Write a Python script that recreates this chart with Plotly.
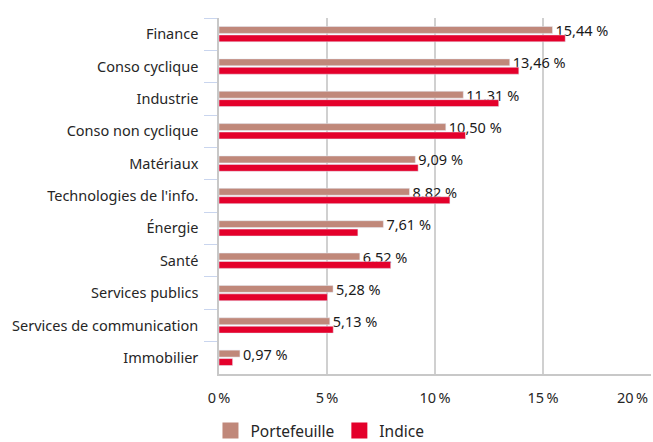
import plotly.graph_objects as go

categories = ["Finance", "Conso cyclique", "Industrie", "Conso non cyclique", "Matériaux",
              "Technologies de l'info.", "Énergie", "Santé", "Services publics",
              "Services de communication", "Immobilier"]
portefeuille = [15.44, 13.46, 11.31, 10.50, 9.09, 8.82, 7.61, 6.52, 5.28, 5.13, 0.97]
indice = [16.03, 13.88, 12.95, 11.41, 9.22, 10.69, 6.43, 7.95, 5.02, 5.29, 0.63]
tick_vals = [0, 5, 10, 15, 20]
tick_text = ["0\u2009%", "5\u2009%", "10\u2009%", "15\u2009%", "20\u2009%"]

C_PF = "#C0887A"
C_IX = "#E4002B"
FONT = "Noto Sans"

labels = [f"{v:.2f}".replace(".", ",") + " %" for v in portefeuille]

fig = go.Figure()
fig.add_trace(go.Bar(
    y=categories, x=portefeuille, orientation="h", name="Portefeuille",
    marker=dict(color=C_PF), text=labels, textposition="outside",
    textfont=dict(family=FONT, size=14.5, color="#1a1a1a"),
    constraintext="none", cliponaxis=False, showlegend=False, hoverinfo="x+y"))
fig.add_trace(go.Bar(
    y=categories, x=indice, orientation="h", name="Indice",
    marker=dict(color=C_IX), showlegend=False, hoverinfo="x+y"))

# legend entries with larger swatches
for nm, col in [("Portefeuille", C_PF), ("Indice", C_IX)]:
    fig.add_trace(go.Scatter(x=[None], y=[None], mode="markers", name=nm,
                             marker=dict(symbol="square", size=20, color=col)))

fig.update_layout(
    width=653, height=442,
    margin=dict(l=219, r=2, t=18, b=68),
    paper_bgcolor="white", plot_bgcolor="white",
    barmode="group", bargap=0.48, bargroupgap=0.18,
    font=dict(family=FONT, size=14, color="#262626"),
    legend=dict(orientation="h", xref="container", yref="container",
                x=0.49, xanchor="center", y=0.025, yanchor="middle",
                font=dict(family=FONT, size=15.5, color="#262626"),
                itemwidth=30, tracegroupgap=0),
    xaxis=dict(range=[0, 20], tickvals=tick_vals[:-1], ticktext=tick_text[:-1],
               automargin=False,
               showgrid=True, gridcolor="#d0d0d0", gridwidth=1.5,
               showline=True, linecolor="#c8c8c8", linewidth=1.5,
               zeroline=False, ticks="", ticklabelstandoff=10,
               tickfont=dict(family=FONT, size=14.5, color="#262626")),
    yaxis=dict(autorange="reversed", showgrid=False, showline=True,
               automargin=False, linecolor="#c8c8c8", linewidth=1.5,
               ticks="outside", tickson="boundaries", ticklen=13,
               tickcolor="#c9d5ee", tickwidth=1.2, ticklabelstandoff=16,
               tickfont=dict(family=FONT, size=14.5, color="#262626")),
)

fig.add_annotation(x=tick_vals[-1], y=0, xref="x", yref="paper", yanchor="top",
                   xanchor="right", text=tick_text[-1], showarrow=False, yshift=-11,
                   xshift=-1, font=dict(family=FONT, size=14.5, color="#262626"))

fig.write_html("out.html", config={"displayModeBar": False})

# remove default page margin so the figure sits at the window origin
with open("out.html", "r", encoding="utf-8") as f:
    html = f.read()
html = html.replace("<head>", "<head><style>html,body{margin:0;padding:0;overflow:hidden;}</style>", 1)
with open("out.html", "w", encoding="utf-8") as f:
    f.write(html)
